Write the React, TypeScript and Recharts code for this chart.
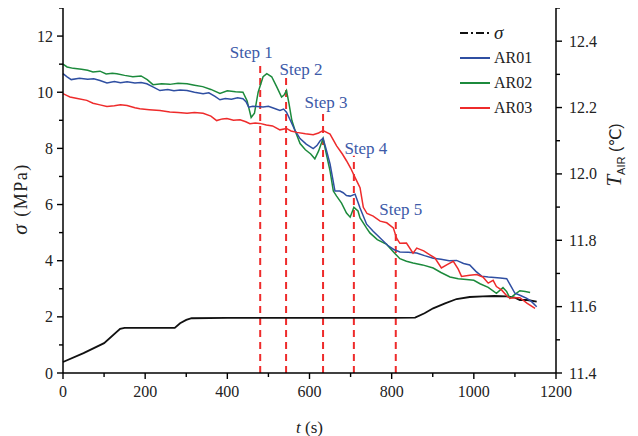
import React from "react"
import {
  LineChart,
  Line,
  XAxis,
  YAxis,
  Legend,
  ReferenceLine,
  ReferenceDot,
} from "recharts"

// black curve (air temperature, right axis)
const tAir = [0, 50, 100, 139, 150, 272, 285, 300, 313, 400, 500, 600, 700, 800, 857, 880, 901, 930, 958, 990, 1022, 1050, 1080, 1100, 1112, 1130, 1153]
const airTemp = [11.433, 11.46, 11.49, 11.533, 11.536, 11.536, 11.55, 11.56, 11.565, 11.566, 11.566, 11.566, 11.566, 11.566, 11.567, 11.58, 11.595, 11.61, 11.623, 11.629, 11.631, 11.632, 11.631, 11.627, 11.62, 11.62, 11.615]

const tAR01 = [0, 10, 20, 40, 60, 75, 90, 107, 125, 140, 156, 175, 190, 204, 220, 236, 255, 270, 285, 302, 320, 341, 355, 370, 382, 395, 410, 425, 438, 446, 452, 462, 472, 487, 500, 515, 528, 537, 544, 555, 565, 577, 592, 609, 618, 626, 633, 640, 650, 662, 674, 682, 690, 699, 711, 723, 739, 755, 772, 790, 805, 820, 840, 861, 880, 901, 920, 940, 958, 975, 990, 1005, 1019, 1035, 1050, 1064, 1080, 1092, 1100, 1115, 1129, 1140, 1153]
const sAR01 = [10.66, 10.55, 10.45, 10.5, 10.46, 10.48, 10.42, 10.33, 10.38, 10.34, 10.37, 10.33, 10.35, 10.3, 10.18, 10.06, 10.1, 10.05, 10.08, 10.06, 10.0, 9.95, 9.98, 9.85, 9.73, 9.78, 9.75, 9.8, 9.77, 9.65, 9.47, 9.5, 9.49, 9.47, 9.5, 9.42, 9.35, 9.4, 9.29, 8.95, 8.63, 8.35, 8.15, 7.99, 8.1, 8.27, 8.36, 8.0, 7.45, 6.48, 6.48, 6.42, 6.32, 6.3, 6.37, 5.88, 5.3, 5.05, 4.81, 4.55, 4.4, 4.31, 4.3, 4.27, 4.18, 4.09, 4.05, 4.0, 4.01, 3.9, 3.85, 3.62, 3.45, 3.42, 3.4, 3.38, 3.36, 3.05, 2.84, 2.75, 2.66, 2.55, 2.36]

const tAR02 = [0, 10, 25, 45, 60, 73, 90, 105, 120, 131, 150, 170, 190, 205, 219, 240, 260, 280, 302, 320, 340, 360, 382, 400, 420, 438, 448, 458, 466, 475, 487, 496, 508, 520, 532, 538, 544, 550, 557, 565, 577, 590, 603, 613, 622, 633, 641, 650, 658, 666, 678, 690, 699, 708, 718, 723, 739, 747, 765, 788, 805, 820, 836, 852, 875, 901, 920, 942, 962, 982, 1000, 1015, 1035, 1055, 1071, 1080, 1088, 1100, 1112, 1125, 1137]
const sAR02 = [11.0, 10.9, 10.85, 10.82, 10.78, 10.72, 10.75, 10.65, 10.68, 10.66, 10.6, 10.55, 10.58, 10.45, 10.27, 10.3, 10.28, 10.32, 10.3, 10.25, 10.2, 10.1, 9.96, 10.05, 10.02, 10.0, 9.7, 9.1, 9.25, 10.0, 10.55, 10.66, 10.55, 10.2, 9.83, 9.9, 10.06, 9.6, 9.0, 8.63, 8.17, 7.95, 7.8, 7.63, 7.9, 8.35, 7.8, 7.2, 6.48, 6.3, 6.05, 5.7, 5.55, 5.9, 5.77, 5.52, 5.16, 4.99, 4.75, 4.58, 4.3, 4.07, 3.98, 3.92, 3.85, 3.74, 3.58, 3.42, 3.36, 3.33, 3.3, 3.18, 3.05, 2.84, 3.04, 2.9, 2.66, 2.8, 2.93, 2.9, 2.87]

const tAR03 = [0, 10, 17, 35, 58, 73, 90, 107, 125, 140, 156, 175, 187, 210, 236, 260, 280, 302, 320, 341, 360, 374, 388, 399, 415, 431, 445, 455, 468, 479, 495, 510, 528, 544, 555, 569, 590, 609, 622, 633, 650, 666, 680, 690, 700, 711, 723, 731, 740, 755, 772, 788, 804, 812, 820, 836, 852, 861, 878, 893, 905, 921, 935, 950, 962, 970, 990, 1007, 1022, 1035, 1047, 1055, 1068, 1080, 1088, 1100, 1112, 1130, 1149]
const sAR03 = [9.95, 9.88, 9.83, 9.78, 9.71, 9.61, 9.55, 9.49, 9.52, 9.55, 9.53, 9.45, 9.41, 9.38, 9.35, 9.3, 9.28, 9.25, 9.28, 9.25, 9.15, 8.99, 9.05, 9.06, 9.0, 9.02, 8.95, 8.88, 8.9, 8.89, 8.83, 8.8, 8.66, 8.71, 8.62, 8.57, 8.52, 8.49, 8.55, 8.63, 8.51, 8.09, 7.8, 7.56, 7.3, 6.96, 6.6, 5.9, 5.68, 5.59, 5.41, 5.35, 5.17, 4.8, 4.62, 4.63, 4.27, 4.45, 4.35, 4.21, 4.1, 3.74, 3.86, 3.98, 3.7, 3.44, 3.48, 3.51, 3.42, 3.2, 3.3, 3.08, 2.95, 2.75, 2.66, 2.68, 2.68, 2.48, 2.3]

const stepTimes = [480, 543, 633, 708, 810]
const stepTops = [11.07, 10.53, 9.24, 7.74, 5.41]
const stepNames = ["Step 1", "Step 2", "Step 3", "Step 4", "Step 5"]

const xTicks = [0, 100, 200, 300, 400, 500, 600, 700, 800, 900, 1000, 1100, 1200]
const leftTicks = [0, 1, 2, 3, 4, 5, 6, 7, 8, 9, 10, 11, 12, 13]
const rightTicks = [11.4, 11.5, 11.6, 11.7, 11.8, 11.9, 12.0, 12.1, 12.2, 12.3, 12.4, 12.5]

const toPoints = (ts: number[], vs: number[]) => ts.map((t, i) => ({ t, v: vs[i] }))

const FONT = "Liberation Serif, DejaVu Serif, serif"
const SANS = "Liberation Sans, DejaVu Sans, sans-serif"
const BLUE = "#2f4fa2"
const GREEN = "#1c8a3c"
const RED = "#ee2b2b"
const STEP_TEXT = "#3d5aa8"

// label centre relative to top of its dashed line (px)
const stepLabelShift = [[-9, 10], [15, 8], [3, 12], [12, 8], [5, 12]]

const legendItems = [
  { name: "σ", color: "#111", dash: "8 3 2 3", italic: true },
  { name: "AR01", color: BLUE, dash: undefined, italic: false },
  { name: "AR02", color: GREEN, dash: undefined, italic: false },
  { name: "AR03", color: RED, dash: undefined, italic: false },
]

const LeftTick = (props: any) => {
  const { x, y, payload } = props
  const major = payload.value % 2 === 0 && payload.value <= 12
  return (
    <g>
      <line x1={x - (major ? 6 : 4)} x2={x} y1={y} y2={y} stroke="#000" strokeWidth={1.4} />
      {major && (
        <text x={x - 10} y={y + 5.5} textAnchor="end" style={{ fontFamily: FONT }} fontSize={16} fill="#222">
          {payload.value}
        </text>
      )}
    </g>
  )
}

const RightTick = (props: any) => {
  const { x, y, payload } = props
  const k = Math.round(payload.value * 10)
  const major = k % 2 === 0 && k <= 124
  return (
    <g>
      <line x1={x} x2={x + (major ? 6 : 4)} y1={y} y2={y} stroke="#000" strokeWidth={1.4} />
      {major && (
        <text x={x + 13} y={y + 5.5} textAnchor="start" style={{ fontFamily: FONT }} fontSize={16} fill="#222">
          {payload.value.toFixed(1)}
        </text>
      )}
    </g>
  )
}

const BottomTick = (props: any) => {
  const { x, y, payload } = props
  const major = payload.value % 200 === 0
  return (
    <g>
      <line x1={x} x2={x} y1={y} y2={y + (major ? 6 : 4)} stroke="#000" strokeWidth={1.4} />
      {major && (
        <text x={x} y={y + 24} textAnchor="middle" style={{ fontFamily: FONT }} fontSize={16} fill="#222">
          {payload.value}
        </text>
      )}
    </g>
  )
}

const XTitle = (props: any) => {
  const vb = props.viewBox
  return (
    <text x={vb.x + vb.width / 2} y={vb.y + 60} textAnchor="middle" style={{ fontFamily: FONT }} fontSize={17} fill="#222">
      <tspan fontStyle="italic">t</tspan> (s)
    </text>
  )
}

const LeftTitle = (props: any) => {
  const vb = props.viewBox
  const cx = vb.x + 13
  const cy = 191
  return (
    <text
      x={cx}
      y={cy + 6}
      transform={`rotate(-90 ${cx} ${cy})`}
      textAnchor="middle"
      style={{ fontFamily: FONT }}
      fontSize={18}
      letterSpacing={1.5}
      fill="#222"
    >
      <tspan fontStyle="italic" fontSize={21}>σ</tspan> (MPa)
    </text>
  )
}

const RightTitle = (props: any) => {
  const vb = props.viewBox
  const cx = vb.x + 58
  const cy = 147
  return (
    <text x={cx} y={cy + 7} transform={`rotate(-90 ${cx} ${cy})`} textAnchor="middle" fill="#222">
      <tspan style={{ fontFamily: FONT }} fontStyle="italic" fontSize={21}>T</tspan>
      <tspan style={{ fontFamily: SANS }} fontSize={11} dy={4}>AIR</tspan>
      <tspan style={{ fontFamily: SANS }} fontSize={16} dy={-4}> (℃)</tspan>
    </text>
  )
}

const LegendBox = () => (
  <div style={{ fontFamily: FONT, fontSize: 16, color: "#222" }}>
    {legendItems.map((it) => (
      <div key={it.name} style={{ display: "flex", alignItems: "center", height: 25 }}>
        <svg width={34} height={10}>
          <line x1={0} x2={30} y1={5} y2={5} stroke={it.color} strokeWidth={2} strokeDasharray={it.dash} />
        </svg>
        <span style={{ fontStyle: it.italic ? "italic" : "normal", fontSize: it.italic ? 19 : 16 }}>{it.name}</span>
      </div>
    ))}
  </div>
)

export default function App() {
  const air = toPoints(tAir, airTemp)
  const ar01 = toPoints(tAR01, sAR01)
  const ar02 = toPoints(tAR02, sAR02)
  const ar03 = toPoints(tAR03, sAR03)

  return (
    <div style={{ fontFamily: FONT }}>
      <LineChart width={630} height={428} margin={{ top: 0, right: 0, bottom: 0, left: 0 }} style={{ fontFamily: FONT }}>
        <XAxis
          type="number"
          dataKey="t"
          domain={[0, 1200]}
          ticks={xTicks}
          interval={0}
          height={63}
          tickSize={0}
          tickMargin={0}
          tickLine={false}
          tick={BottomTick}
          axisLine={{ stroke: "#000", strokeWidth: 1.5 }}
          label={XTitle}
        />
        <YAxis
          yAxisId="s"
          type="number"
          domain={[0, 13]}
          ticks={leftTicks}
          interval={0}
          width={55}
          tickSize={0}
          tickMargin={0}
          tickLine={false}
          tick={LeftTick}
          axisLine={{ stroke: "#000", strokeWidth: 1.5 }}
          label={LeftTitle}
        />
        <YAxis
          yAxisId="T"
          orientation="right"
          type="number"
          domain={[11.4, 12.5]}
          ticks={rightTicks}
          interval={0}
          width={82}
          tickSize={0}
          tickMargin={0}
          tickLine={false}
          tick={RightTick}
          axisLine={{ stroke: "#000", strokeWidth: 1.5 }}
          label={RightTitle}
        />
        <Legend
          layout="horizontal"
          verticalAlign="middle"
          align="center"
          content={LegendBox}
          wrapperStyle={{ position: "absolute", left: 452, top: 12, width: 110, height: 100 }}
        />
        {stepTimes.map((t, i) => (
          <ReferenceLine
            key={"sl" + i}
            yAxisId="s"
            segment={[{ x: t, y: 0 }, { x: t, y: stepTops[i] }]}
            stroke={RED}
            strokeWidth={2}
            strokeDasharray="7 5"
          />
        ))}
        <Line yAxisId="T" data={air} dataKey="v" stroke="#111" strokeWidth={1.8} dot={false} isAnimationActive={false} />
        <Line yAxisId="s" data={ar02} dataKey="v" stroke={GREEN} strokeWidth={1.5} dot={false} isAnimationActive={false} />
        <Line yAxisId="s" data={ar01} dataKey="v" stroke={BLUE} strokeWidth={1.5} dot={false} isAnimationActive={false} />
        <Line yAxisId="s" data={ar03} dataKey="v" stroke={RED} strokeWidth={1.5} dot={false} isAnimationActive={false} />
        {stepTimes.map((t, i) => (
          <ReferenceDot
            key={"st" + i}
            yAxisId="s"
            x={t}
            y={stepTops[i]}
            r={0}
            shape={(p: any) => (
              <text
                x={p.cx + stepLabelShift[i][0]}
                y={p.cy - stepLabelShift[i][1] + 6}
                textAnchor="middle"
                style={{ fontFamily: FONT }}
                fontSize={17}
                fill={STEP_TEXT}
              >
                {stepNames[i]}
              </text>
            )}
          />
        ))}
      </LineChart>
    </div>
  )
}
